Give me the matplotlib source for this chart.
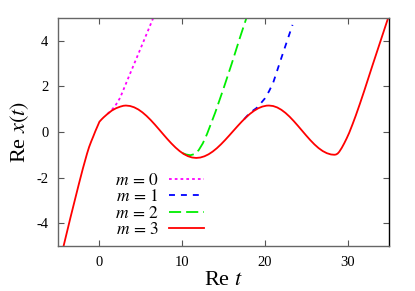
import matplotlib
matplotlib.use("Agg")
import matplotlib.pyplot as plt

plt.rcParams['font.family'] = ['Liberation Serif', 'DejaVu Serif']
plt.rcParams['mathtext.fontset'] = 'stix'

# m = 3 (full curve)
t3 = [-4.4, -3.5, -2.5, -2.0, -1.5, -1.25, -1.0, -0.75, -0.5, -0.25, 0.0, 0.25, 0.5, 0.75,
      1.0, 1.5, 2.0, 2.5, 2.9, 3.2, 3.7, 4.2, 4.7, 5.2, 5.7, 6.2, 6.7, 7.2, 7.7, 8.2, 8.7,
      9.2, 9.7, 10.2, 10.7, 11.2, 11.7, 12.2, 12.7, 13.2, 13.7, 14.2, 14.7, 15.2, 15.7,
      16.2, 16.7, 17.2, 17.7, 18.2, 18.7, 19.2, 19.7, 20.2, 20.5, 21.0, 21.5, 22.0, 22.5,
      23.0, 23.5, 24.0, 24.5, 25.0, 25.5, 26.0, 26.5, 27.0, 27.5, 28.0, 28.4, 28.6, 28.8,
      29.0, 29.3, 29.6, 29.9, 30.2, 30.6, 31.0, 31.5, 32.0, 33.0, 34.0, 35.0]
x3 = [-5.1, -3.75, -2.3, -1.6, -0.95, -0.66, -0.42, -0.2, 0.03, 0.24, 0.45, 0.55, 0.64, 0.72,
      0.80, 0.94, 1.04, 1.11, 1.15, 1.16, 1.14, 1.082, 0.988, 0.86, 0.703, 0.523, 0.325,
      0.116, -0.096, -0.305, -0.503, -0.683, -0.84, -0.968, -1.062, -1.12, -1.14, -1.122,
      -1.067, -0.979, -0.859, -0.712, -0.541, -0.353, -0.154, 0.051, 0.254, 0.45, 0.632,
      0.794, 0.93, 1.039, 1.114, 1.155, 1.16, 1.139, 1.076, 0.973, 0.836, 0.669, 0.478,
      0.272, 0.059, -0.154, -0.358, -0.545, -0.707, -0.837, -0.931, -0.987, -1.0, -0.99,
      -0.95, -0.87, -0.7, -0.5, -0.28, -0.04, 0.33, 0.72, 1.24, 1.78, 2.9, 4.0, 5.1]

# m = 0
t0 = [1.0, 1.5, 2.0, 2.5, 3.5, 4.5, 5.5, 6.5, 7.0]
x0 = [0.80, 0.97, 1.2, 1.5, 2.38, 3.25, 4.12, 5.0, 5.4]

# m = 1
t1 = [17.5, 18.0, 18.5, 19.0, 19.5, 20.0, 20.5, 21.0, 22.0, 23.35]
x1 = [0.56, 0.76, 0.92, 1.05, 1.25, 1.47, 1.78, 2.15, 3.25, 4.7]

# m = 2
t2 = [10.0, 10.5, 11.0, 11.5, 12.0, 12.5, 13.0, 14.0, 15.0, 16.0, 17.0, 18.0]
x2 = [-0.92, -0.99, -1.02, -0.97, -0.80, -0.5, -0.1, 0.85, 1.9, 3.0, 4.15, 5.25]

labels = [r'$m\,=\,0$', r'$m\,=\,1$', r'$m\,=\,2$', r'$m\,=\,3$']
xticks = [0, 10, 20, 30]
yticks = [-4, -2, 0, 2, 4]

fig = plt.figure(figsize=(4.15, 2.91), dpi=100)
ax = fig.add_axes([0.14, 0.155, 0.797, 0.783])

lw = 1.3
ax.plot(t0, x0, color='#ff00ff', lw=lw, linestyle=(0, (1.5, 1.7)), label=labels[0])
ax.plot(t1, x1, color='#0000ff', lw=lw, linestyle=(0, (3.3, 3.3)), label=labels[1])
ax.plot(t2, x2, color='#00ee00', lw=lw, linestyle=(0, (6.7, 2.8)), label=labels[2])
ax.plot(t3, x3, color='#ff0000', lw=lw, linestyle='-', label=labels[3])

ax.set_xlim(-5, 35)
ax.set_ylim(-5, 5)
ax.set_xticks(xticks)
ax.set_xticklabels([str(v) for v in xticks])
ax.set_yticks(yticks)
ax.set_yticklabels([str(v) for v in yticks])
ax.tick_params(direction='in', top=True, right=True, length=4, width=0.8,
               labelsize=10.5, color='#555555', pad=7)
for s in ax.spines.values():
    s.set_color('#666666')
    s.set_linewidth(1.0)
ax.spines['right'].set_color('black')

ax.set_xlabel('Re $t$', fontsize=16, labelpad=1.5)
ax.set_ylabel('Re $x(t)$', fontsize=16, labelpad=4)

leg = ax.legend(loc='lower left', bbox_to_anchor=(0.14, -0.01), frameon=False,
                markerfirst=False, fontsize=12.5, handlelength=2.0, handletextpad=0.6,
                labelspacing=0.0, borderaxespad=0.4, borderpad=0.2)

fig.savefig('out.png', dpi=100)
